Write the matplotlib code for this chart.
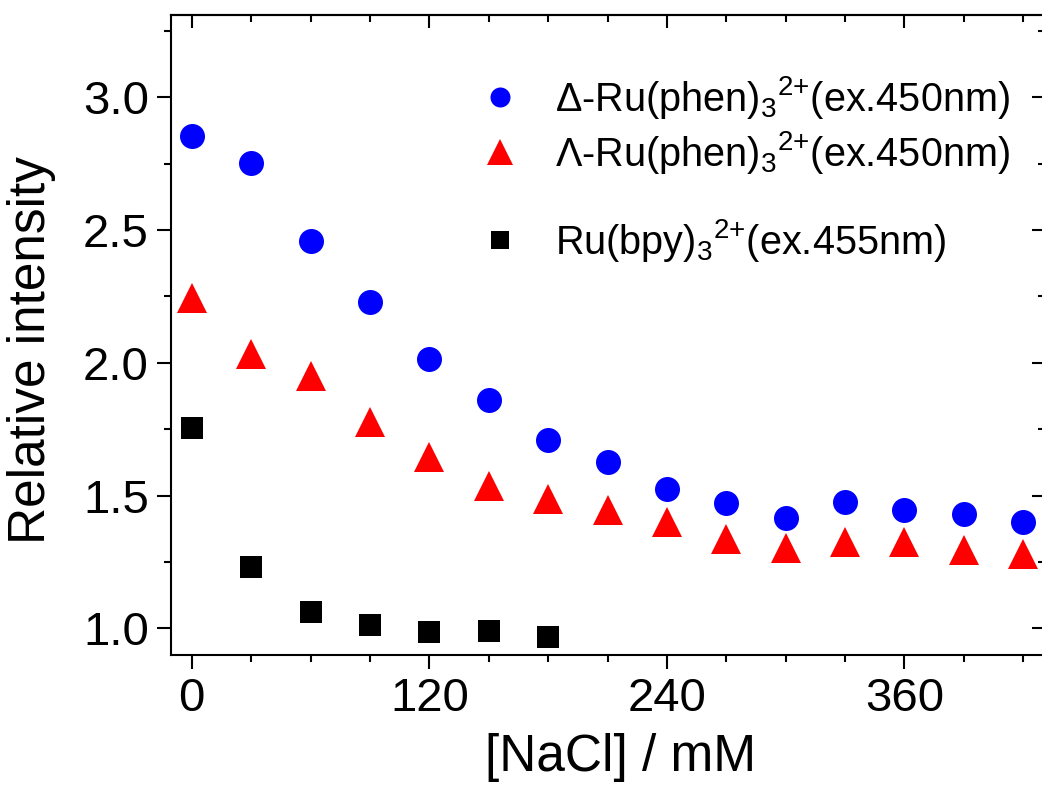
import matplotlib
matplotlib.use("Agg")
import matplotlib.pyplot as plt
from matplotlib.ticker import MultipleLocator, FormatStrFormatter

# ---- data ----
nacl = [0, 30, 60, 90, 120, 150, 180, 210, 240, 270, 300, 330, 360, 390, 420]
delta_phen = [2.855, 2.753, 2.458, 2.229, 2.015, 1.861, 1.710, 1.626, 1.525, 1.471,
              1.417, 1.477, 1.446, 1.431, 1.400]
lambda_phen = [2.244, 2.034, 1.952, 1.777, 1.645, 1.537, 1.489, 1.446, 1.402, 1.336,
               1.303, 1.326, 1.326, 1.295, 1.280]
nacl_bpy = [0, 30, 60, 90, 120, 150, 180]
bpy = [1.753, 1.232, 1.061, 1.014, 0.986, 0.991, 0.968]

labels = [r"Δ-Ru(phen)$_3$$^{2{+}}$(ex.450nm)",
          r"Λ-Ru(phen)$_3$$^{2{+}}$(ex.450nm)",
          r"Ru(bpy)$_3$$^{2{+}}$(ex.455nm)"]
x_ticks = [0, 120, 240, 360]
y_ticks = [1.0, 1.5, 2.0, 2.5, 3.0]

plt.rcParams['font.family'] = ['Liberation Sans', 'DejaVu Sans']
plt.rcParams['mathtext.fontset'] = 'custom'
plt.rcParams['mathtext.rm'] = 'Liberation Sans'
plt.rcParams['mathtext.it'] = 'Liberation Sans:italic'
plt.rcParams['mathtext.bf'] = 'Liberation Sans:bold'

W, H = 1042, 785
fig = plt.figure(figsize=(W / 100, H / 100), dpi=100)
L, R, T, B = 171, 1045, 15, 655
ax = fig.add_axes([L / W, 1 - B / H, (R - L) / W, (B - T) / H])

ax.plot(nacl, delta_phen, linestyle='none', marker='o', ms=18, mew=0, color='#0000ff')
ax.plot(nacl, lambda_phen, linestyle='none', marker='^', ms=21, mew=0, color='#ff0000')
ax.plot(nacl_bpy, bpy, linestyle='none', marker='s', ms=16.3, mew=0, color='#000000')

ax.set_xlim(-10.5, 431)
ax.set_ylim(0.9, 3.31)

lw = 1.5
for s in ax.spines.values():
    s.set_linewidth(lw)

ax.set_xticks(x_ticks)
ax.xaxis.set_minor_locator(MultipleLocator(30))
ax.set_yticks(y_ticks)
ax.yaxis.set_minor_locator(MultipleLocator(0.25))
ax.yaxis.set_major_formatter(FormatStrFormatter('%.1f'))
ax.tick_params(which='both', direction='out', width=lw, labelsize=34, pad=6)
ax.tick_params(which='major', length=10)
ax.tick_params(which='minor', length=5)

secx = ax.secondary_xaxis('top')
secx.set_xticks(x_ticks)
secx.xaxis.set_minor_locator(MultipleLocator(30))
secx.tick_params(which='both', direction='in', width=lw, labeltop=False)
secx.tick_params(which='major', length=9.5)
secx.tick_params(which='minor', length=5)
secx.spines['top'].set_linewidth(lw)

secy = ax.secondary_yaxis('right')
secy.set_yticks(y_ticks)
secy.yaxis.set_minor_locator(MultipleLocator(0.25))
secy.tick_params(which='both', direction='in', width=lw, labelright=False)
secy.tick_params(which='major', length=9.5)
secy.tick_params(which='minor', length=5)

ax.set_xlabel('[NaCl] / mM', fontsize=37)
ax.set_ylabel('Relative intensity', fontsize=37)
ax.xaxis.set_label_coords((621 - L) / (R - L), -(733 - B) / (B - T))
ax.yaxis.set_label_coords((56 - L) / (R - L), (B - 350) / (B - T))

# legend drawn manually
def fx(px):
    return (px - L) / (R - L)

def fy(py):
    return (B - py) / (B - T)

leg_y = [97, 152, 240]
leg_style = [dict(marker='o', ms=14.4, color='#0000ff'),
             dict(marker='^', ms=19, color='#ff0000'),
             dict(marker='s', ms=13, color='#000000')]
for yy, lab, st in zip(leg_y, labels, leg_style):
    ax.plot([fx(500)], [fy(yy)], linestyle='none', mew=0, transform=ax.transAxes,
            clip_on=False, **st)
    ax.text(fx(555), fy(yy + 14), lab, transform=ax.transAxes, fontsize=28.5,
            ha='left', va='baseline')

fig.savefig('out.png', dpi=100)
